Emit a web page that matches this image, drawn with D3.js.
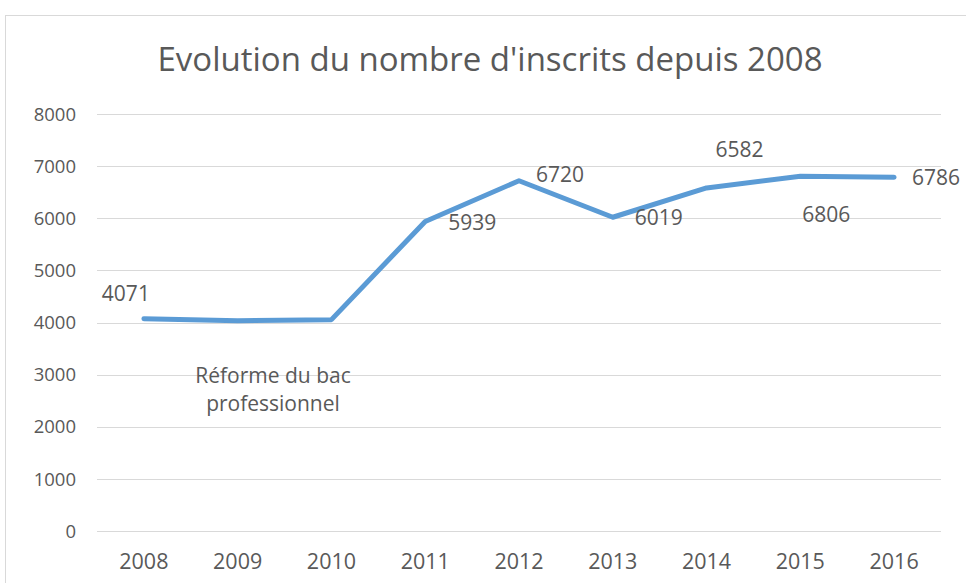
<!DOCTYPE html>
<html>
<head>
<meta charset="utf-8">
<script src="https://cdn.jsdelivr.net/npm/d3@7"></script>
<style>
  body { margin: 0; background: #fff; }
  text { font-family: "Open Sans", "Noto Sans", sans-serif; fill: #595959; }
</style>
</head>
<body>
<svg id="chart" width="966" height="583"></svg>
<script>
// Data
const years = ["2008", "2009", "2010", "2011", "2012", "2013", "2014", "2015", "2016"];
const inscrits = [4071, 4035, 4055, 5939, 6720, 6019, 6582, 6806, 6786];
const yTicks = [0, 1000, 2000, 3000, 4000, 5000, 6000, 7000, 8000];
// label offset from the point: dx (centre of text), dy (baseline)
const labelPos = [
    [-18, -18], null, null,
    [47, 9], [41, 1], [46, 8],
    [33, -31], [26, 46], [42, 8]
];

const svg = d3.select('#chart');

// Chart frame
svg.append('rect')
    .attr('x', 5.5)
    .attr('y', 15.5)
    .attr('width', 980)
    .attr('height', 600)
    .attr('fill', '#fff')
    .attr('stroke', '#d9d9d9');

// Scales
const x = d3.scaleBand().domain(years).range([97, 941]);
const y = d3.scaleLinear().domain([0, 8000]).range([531, 114]);

// Gridlines
svg.append('g')
    .selectAll('line')
    .data(yTicks)
    .join('line')
    .attr('x1', 97)
    .attr('x2', 941)
    .attr('y1', d => Math.round(y(d)) + 0.5)
    .attr('y2', d => Math.round(y(d)) + 0.5)
    .attr('stroke', '#d9d9d9');

// Y axis labels
svg.append('g')
    .selectAll('text')
    .data(yTicks)
    .join('text')
    .attr('x', 76)
    .attr('y', d => y(d))
    .attr('dy', '0.36em')
    .attr('text-anchor', 'end')
    .style('font-size', '18.5px')
    .text(d => d);

// X axis labels
svg.append('g')
    .selectAll('text')
    .data(years)
    .join('text')
    .attr('x', d => x(d) + x.bandwidth() / 2)
    .attr('y', 569)
    .attr('text-anchor', 'middle')
    .style('font-size', '21.5px')
    .text(d => d);

// Title
svg.append('text')
    .attr('x', 490)
    .attr('y', 71)
    .attr('text-anchor', 'middle')
    .style('font-size', '33px')
    .text("Evolution du nombre d'inscrits depuis 2008");

// Line
const line = d3.line()
    .x((d, i) => x(years[i]) + x.bandwidth() / 2)
    .y(d => y(d));

svg.append('path')
    .datum(inscrits)
    .attr('d', line)
    .attr('fill', 'none')
    .attr('stroke', '#5b9bd5')
    .attr('stroke-width', 5)
    .attr('stroke-linejoin', 'round')
    .attr('stroke-linecap', 'round');

// Data labels
svg.append('g')
    .selectAll('text')
    .data(inscrits.map((v, i) => ({ v: v, i: i })).filter(d => labelPos[d.i]))
    .join('text')
    .attr('x', d => x(years[d.i]) + x.bandwidth() / 2 + labelPos[d.i][0])
    .attr('y', d => y(d.v) + labelPos[d.i][1])
    .attr('text-anchor', 'middle')
    .style('font-size', '21px')
    .text(d => d.v);

// Annotation
const note = svg.append('text')
    .attr('text-anchor', 'middle')
    .style('font-size', '21px');
note.append('tspan').attr('x', 273).attr('y', 383).text('Réforme du bac');
note.append('tspan').attr('x', 273).attr('y', 411).text('professionnel');
</script>
</body>
</html>
